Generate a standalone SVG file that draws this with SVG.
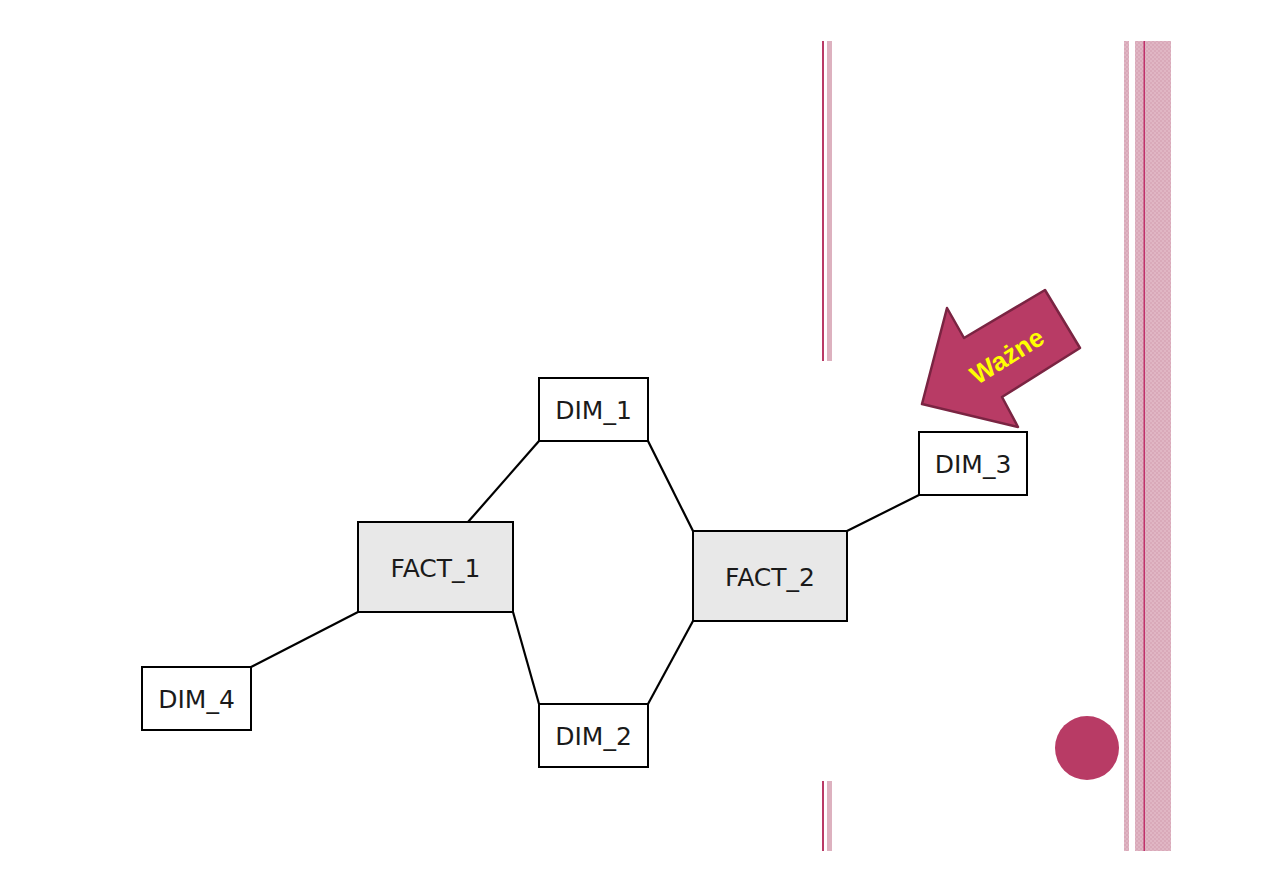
<svg xmlns="http://www.w3.org/2000/svg" width="1263" height="893" viewBox="0 0 1263 893">
<defs>
<style>
.box{stroke:#000;stroke-width:2}
.dim{fill:#fff}
.fact{fill:#e8e8e8}
.lbl{font-family:"DejaVu Sans",Verdana,sans-serif;font-size:25px;fill:#1a1a1a;text-anchor:middle;dominant-baseline:central}
.conn line{stroke:#000;stroke-width:2.2}
.dark{fill:#b93a66}
.light{fill:#ddb1bf}
</style>
<pattern id="hatch" width="4" height="4" patternUnits="userSpaceOnUse">
<rect width="4" height="4" fill="#e0b6c4"/>
<rect width="2" height="2" fill="#d9a9b9"/>
<rect x="2" y="2" width="2" height="2" fill="#d9a9b9"/>
</pattern>
</defs>
<rect width="1263" height="893" fill="#fff"/>
<g id="decor">
<rect class="dark" x="822" y="41" width="2" height="320"/>
<rect class="light" x="827" y="41" width="5" height="320"/>
<rect class="dark" x="822" y="781" width="2" height="70"/>
<rect class="light" x="827" y="781" width="5" height="70"/>
<rect x="1124" y="41" width="5" height="810" fill="url(#hatch)"/>
<rect x="1135" y="41" width="36" height="810" fill="url(#hatch)"/>
<rect x="1143.5" y="41" width="1.5" height="810" fill="#c0306a"/>
<circle cx="1087" cy="748" r="32" fill="#b83b65"/>
</g>
<g id="arrow">
<polygon points="947,308 964,338 1045,290 1080,348 1002,397 1018,427 922,404" fill="#b83b65" stroke="#7a2442" stroke-width="2.5" stroke-linejoin="round"/>
<text x="1007" y="356" transform="rotate(-32 1007 356)" font-family="'Liberation Sans',Arial,sans-serif" font-size="26" font-weight="bold" fill="#ffff00" text-anchor="middle" dominant-baseline="central">Ważne</text>
</g>
<g id="connectors" class="conn">
<line x1="468" y1="522" x2="539" y2="441"/>
<line x1="648" y1="441" x2="693" y2="531"/>
<line x1="513" y1="612" x2="539" y2="704"/>
<line x1="648" y1="704" x2="693" y2="621"/>
<line x1="847" y1="531" x2="919" y2="495"/>
<line x1="251" y1="667" x2="358" y2="612"/>
</g>
<g id="DIM_1"><rect class="box dim" x="539" y="378" width="109" height="63"/><text class="lbl" x="593.5" y="410">DIM_1</text></g>
<g id="DIM_2"><rect class="box dim" x="539" y="704" width="109" height="63"/><text class="lbl" x="593.5" y="736">DIM_2</text></g>
<g id="DIM_3"><rect class="box dim" x="919" y="432" width="108" height="63"/><text class="lbl" x="973" y="464">DIM_3</text></g>
<g id="DIM_4"><rect class="box dim" x="142" y="667" width="109" height="63"/><text class="lbl" x="196.5" y="699">DIM_4</text></g>
<g id="FACT_1"><rect class="box fact" x="358" y="522" width="155" height="90"/><text class="lbl" x="435.5" y="568">FACT_1</text></g>
<g id="FACT_2"><rect class="box fact" x="693" y="531" width="154" height="90"/><text class="lbl" x="770" y="577">FACT_2</text></g>
</svg>
